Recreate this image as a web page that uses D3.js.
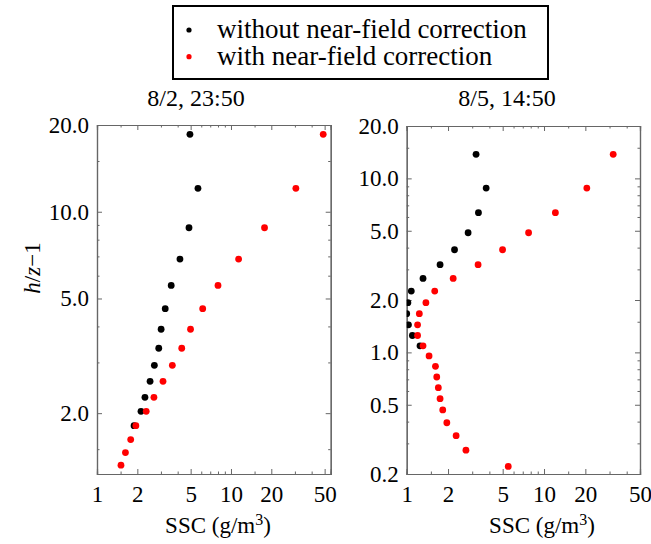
<!DOCTYPE html>
<html>
<head>
<meta charset="utf-8">
<script src="https://cdn.jsdelivr.net/npm/d3@7"></script>
<style>
  body { margin: 0; background: #fff; }
  svg text { font-family: "Liberation Serif", "Times New Roman", Times, Tinos, "DejaVu Serif", serif !important; }
</style>
</head>
<body>
<svg id="chart" width="651" height="544"></svg>
<script>
// ---- data ----
var leftBlackH   = [18.56, 12.06, 8.80, 6.85, 5.55, 4.61, 3.91, 3.36, 2.93, 2.58, 2.27, 2.03, 1.81];
var leftBlackSSC = [4.94, 5.67, 4.86, 4.16, 3.58, 3.23, 3.01, 2.89, 2.68, 2.49, 2.28, 2.13, 1.89];
var leftRedH     = [18.56, 12.06, 8.80, 6.85, 5.55, 4.61, 3.91, 3.36, 2.93, 2.58, 2.27, 2.03, 1.81, 1.62, 1.46, 1.32];
var leftRedSSC   = [48.8, 30.5, 17.8, 11.4, 8.0, 6.15, 4.99, 4.29, 3.65, 3.11, 2.66, 2.33, 1.95, 1.785, 1.63, 1.51];

var rightBlackH   = [13.75, 8.80, 6.35, 4.87, 3.89, 3.19, 2.66, 2.25, 1.93, 1.67, 1.44, 1.25, 1.09];
var rightBlackSSC = [3.20, 3.79, 3.33, 2.80, 2.23, 1.75, 1.315, 1.08, 1.02, 1.00, 1.03, 1.10, 1.25];
var rightRedH     = [13.75, 8.80, 6.35, 4.87, 3.89, 3.19, 2.66, 2.25, 1.93, 1.67, 1.44, 1.25, 1.09,
                     0.954, 0.832, 0.722, 0.627, 0.542, 0.467, 0.394, 0.332, 0.274, 0.221];
var rightRedSSC   = [31.9, 20.5, 12.1, 7.72, 4.99, 3.31, 2.18, 1.60, 1.38, 1.236, 1.20, 1.20, 1.315,
                     1.455, 1.62, 1.655, 1.70, 1.75, 1.83, 1.96, 2.29, 2.70, 5.49];

var titles = ["8/2, 23:50", "8/5, 14:50"];
var legendLabels = ["without near-field correction", "with near-field correction"];
var xTicks = [1, 2, 5, 10, 20, 50];
var xMinor = [1.5, 3, 4, 6, 7, 8, 9, 15, 30, 40];
var leftYTicks = [2, 5, 10, 20];
var leftYMinor = [1.5, 3, 4, 6, 7, 8, 9, 15];
var rightYTicks = [0.2, 0.5, 1, 2, 5, 10, 20];
var rightYMinor = [0.3, 0.4, 0.6, 0.7, 0.8, 0.9, 1.5, 3, 4, 6, 7, 8, 9, 15];

var svg = d3.select("#chart");
var frameColor = "#666";

function drawPanel(p) {
    var x = d3.scaleLog().domain(p.xDomain).range([p.left, p.right]);
    var y = d3.scaleLog().domain(p.yDomain).range([p.bottom, p.top]);
    var g = svg.append("g");

    // clip so points on the edge get cut like the original
    g.append("clipPath").attr("id", p.id + "clip")
      .append("rect")
        .attr("x", p.left).attr("y", p.top)
        .attr("width", p.right - p.left).attr("height", p.bottom - p.top);

    // frame axes, ticks pointing inward
    var bottomAx = d3.axisBottom(x).tickValues(xTicks).tickSize(-5).tickFormat(d3.format("d")).tickPadding(12);
    var topAx = d3.axisTop(x).tickValues(xTicks).tickSize(-5).tickFormat("");
    var leftAx = d3.axisLeft(y).tickValues(p.yTicks).tickSize(-5).tickFormat(d3.format(".1f")).tickPadding(8);
    var rightAx = d3.axisRight(y).tickValues(p.yTicks).tickSize(-5).tickFormat("");

    g.append("g").attr("transform", "translate(0," + p.bottom + ")").call(bottomAx);
    g.append("g").attr("transform", "translate(0," + p.top + ")").call(topAx);
    g.append("g").attr("transform", "translate(" + p.left + ",0)").call(leftAx);
    g.append("g").attr("transform", "translate(" + p.right + ",0)").call(rightAx);

    // minor ticks
    g.append("g").attr("transform", "translate(0," + p.bottom + ")")
      .call(d3.axisBottom(x).tickValues(xMinor).tickSize(-2.5).tickFormat(""));
    g.append("g").attr("transform", "translate(0," + p.top + ")")
      .call(d3.axisTop(x).tickValues(xMinor).tickSize(-2.5).tickFormat(""));
    g.append("g").attr("transform", "translate(" + p.left + ",0)")
      .call(d3.axisLeft(y).tickValues(p.yMinor).tickSize(-2.5).tickFormat(""));
    g.append("g").attr("transform", "translate(" + p.right + ",0)")
      .call(d3.axisRight(y).tickValues(p.yMinor).tickSize(-2.5).tickFormat(""));

    g.selectAll(".domain").attr("stroke", frameColor).attr("stroke-width", 1.2);
    g.selectAll(".tick line").attr("stroke", frameColor);
    g.selectAll(".tick text")
        .attr("fill", "#000")
        .attr("font-family", null)
        .style("font-size", "23px");

    // points
    var pts = g.append("g").attr("clip-path", "url(#" + p.id + "clip)");
    pts.selectAll("circle.black").data(p.blackH)
      .enter().append("circle")
        .attr("class", "black")
        .attr("cx", function(d, i) { return x(p.blackSSC[i]); })
        .attr("cy", function(d) { return y(d); })
        .attr("r", 3.4)
        .style("fill", "black");
    pts.selectAll("circle.red").data(p.redH)
      .enter().append("circle")
        .attr("class", "red")
        .attr("cx", function(d, i) { return x(p.redSSC[i]); })
        .attr("cy", function(d) { return y(d); })
        .attr("r", 3.4)
        .style("fill", "#ff0000");

    // title
    svg.append("text")
        .attr("x", p.titleX).attr("y", 106)
        .attr("text-anchor", "middle")
        .style("font-size", "24px")
        .text(p.title);

    // x label
    var xl = svg.append("text")
        .attr("x", p.xLabelX).attr("y", 533)
        .attr("text-anchor", "middle")
        .style("font-size", "23px");
    xl.append("tspan").text("SSC (g/m");
    xl.append("tspan").attr("dy", -8).style("font-size", "16px").text("3");
    xl.append("tspan").attr("dy", 8).text(")");
}

drawPanel({
    id: "left", left: 97, right: 330.7, top: 125, bottom: 474,
    xDomain: [1, 55.5], yDomain: [1.23, 20],
    yTicks: leftYTicks, yMinor: leftYMinor,
    blackH: leftBlackH, blackSSC: leftBlackSSC, redH: leftRedH, redSSC: leftRedSSC,
    title: titles[0], titleX: 196, xLabelX: 218
});

drawPanel({
    id: "right", left: 406.7, right: 640, top: 126, bottom: 474,
    xDomain: [1, 50], yDomain: [0.2, 20],
    yTicks: rightYTicks, yMinor: rightYMinor,
    blackH: rightBlackH, blackSSC: rightBlackSSC, redH: rightRedH, redSSC: rightRedSSC,
    title: titles[1], titleX: 507, xLabelX: 542
});

// y label  h/z-1
var yl = svg.append("text")
    .attr("transform", "translate(40,268) rotate(-90)")
    .attr("text-anchor", "middle")
    .style("font-size", "23px");
yl.append("tspan").style("font-style", "italic").text("h");
yl.append("tspan").text("/");
yl.append("tspan").style("font-style", "italic").text("z");
yl.append("tspan").text("\u22121");

// legend
var legend = svg.append("g");
legend.append("rect")
    .attr("x", 173).attr("y", 6).attr("width", 375).attr("height", 73)
    .attr("fill", "white").attr("stroke", "black").attr("stroke-width", 2);
var legendColors = ["black", "#ff0000"];
legend.selectAll("circle").data(legendLabels)
  .enter().append("circle")
    .attr("cx", 189)
    .attr("cy", function(d, i) { return 30 + i * 26.7; })
    .attr("r", 2.6)
    .style("fill", function(d, i) { return legendColors[i]; });
legend.selectAll("text").data(legendLabels)
  .enter().append("text")
    .attr("x", 217)
    .attr("y", function(d, i) { return 38 + i * 26.7; })
    .style("font-size", "27px")
    .text(function(d) { return d; });
</script>
</body>
</html>
